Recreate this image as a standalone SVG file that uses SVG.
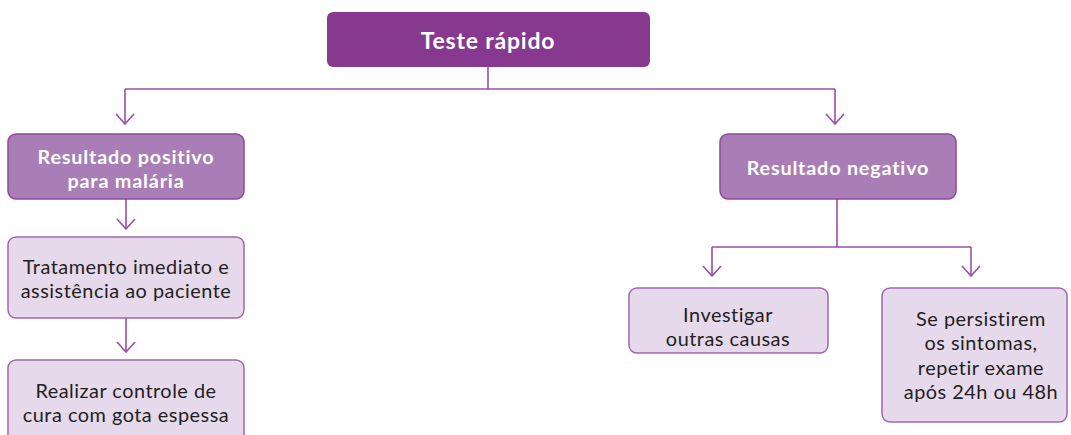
<svg xmlns="http://www.w3.org/2000/svg" width="1071" height="435" viewBox="0 0 1071 435">
<defs>
<style>
.main{fill:#87388f;}
.mid{fill:#a97db6;stroke:#8e4a99;stroke-width:1.5;}
.leaf{fill:#e6d9ec;stroke:#a366b0;stroke-width:1.5;}
.tw{font-family:Lato,"Open Sans",sans-serif;font-weight:bold;fill:#ffffff;text-anchor:middle;letter-spacing:0.8px;}
.td{font-family:Lato,"Open Sans",sans-serif;fill:#231f20;text-anchor:middle;font-size:19.9px;letter-spacing:0.5px;}
.conn{fill:none;stroke:#9a4ea6;stroke-width:1.6;}
</style>
<marker id="ah" viewBox="0 0 12 20" refX="11" refY="10" markerWidth="12" markerHeight="20" markerUnits="userSpaceOnUse" orient="auto">
<path d="M1,1 L11,10 L1,19" fill="none" stroke="#9a4ea6" stroke-width="1.6"/>
</marker>
</defs>
<g id="connectors">
<path class="conn" d="M488,67 V89"/>
<path class="conn" d="M125,89 H835"/>
<path class="conn" d="M125,89 V124" marker-end="url(#ah)"/>
<path class="conn" d="M835,89 V124" marker-end="url(#ah)"/>
<path class="conn" d="M126,199 V229" marker-end="url(#ah)"/>
<path class="conn" d="M126,318 V352" marker-end="url(#ah)"/>
<path class="conn" d="M837,199 V247"/>
<path class="conn" d="M712,247 H971"/>
<path class="conn" d="M712,247 V276" marker-end="url(#ah)"/>
<path class="conn" d="M971,247 V276" marker-end="url(#ah)"/>
</g>
<g id="teste">
<rect class="main" x="327" y="12" width="323" height="55" rx="6"/>
<text class="tw" x="488" y="49" font-size="23" letter-spacing="1">Teste rápido</text>
</g>
<g id="positivo">
<rect class="mid" x="8" y="134" width="236" height="65" rx="8"/>
<text class="tw" x="126" y="164" font-size="19.8">Resultado positivo</text>
<text class="tw" x="126" y="188" font-size="19.8">para malária</text>
</g>
<g id="tratamento">
<rect class="leaf" x="8" y="237" width="236" height="81" rx="8"/>
<text class="td" x="126" y="274">Tratamento imediato e</text>
<text class="td" x="126" y="298">assistência ao paciente</text>
</g>
<g id="controle">
<rect class="leaf" x="8" y="360" width="236" height="90" rx="8"/>
<text class="td" x="126" y="398">Realizar controle de</text>
<text class="td" x="126" y="422">cura com gota espessa</text>
</g>
<g id="negativo">
<rect class="mid" x="720" y="134" width="236" height="65" rx="8"/>
<text class="tw" x="838" y="175" font-size="19.8">Resultado negativo</text>
</g>
<g id="investigar">
<rect class="leaf" x="629" y="288" width="199" height="65" rx="8"/>
<text class="td" x="728" y="322">Investigar</text>
<text class="td" x="728" y="346">outras causas</text>
</g>
<g id="persistirem">
<rect class="leaf" x="882" y="288" width="185" height="134" rx="8"/>
<text class="td" x="981" y="326">Se persistirem</text>
<text class="td" x="981" y="350">os sintomas,</text>
<text class="td" x="981" y="375">repetir exame</text>
<text class="td" x="981" y="399">após 24h ou 48h</text>
</g>
</svg>
